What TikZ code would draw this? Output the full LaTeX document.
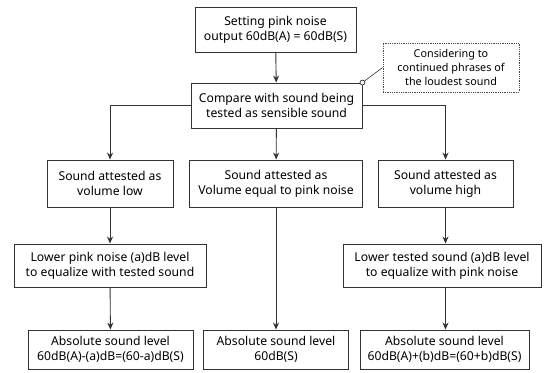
\documentclass[tikz,border=0pt]{standalone}
\usepackage{fontspec}
\setmainfont{Noto Sans}
\usepackage{tikz}
\usetikzlibrary{shapes,positioning,arrows.meta}
\tikzset{box/.style={rectangle,draw=black!80,line width=0.9pt,align=center,inner sep=0pt,font=\fontsize{12.2}{15}\selectfont}}
\tikzset{note/.style={rectangle,draw=black!70,densely dotted,line width=0.8pt,align=center,inner sep=0pt,font=\fontsize{10.8}{14}\selectfont}}
\tikzset{flow/.style={draw=black!80,line width=0.9pt,-{Stealth[length=7pt,width=6pt]}}}

\begin{document}
\begin{tikzpicture}[x=1pt,y=-1pt]
    \useasboundingbox (0,0) rectangle (545,372);
    \node[box,minimum width=161pt,minimum height=45pt] (set)at (275.5,29.5) {Setting pink noise\\output 60dB(A) = 60dB(S)};
    \node[box,minimum width=171pt,minimum height=45pt] (cmp)at (276.5,105.5) {Compare with sound being\\tested as sensible sound};
    \node[note,minimum width=136pt,minimum height=49pt] (cons)at (451,67.5) {Considering to\\continued phrases of\\the loudest sound};

    \node[box,minimum width=126pt,minimum height=47pt] (low)at (110,183.5) {Sound attested as\\volume low};
    \node[box,minimum width=173pt,minimum height=47pt] (equal)at (276,183.5) {Sound attested as\\Volume equal to pink noise};
    \node[box,minimum width=135pt,minimum height=47pt] (high)at (445.5,183.5) {Sound attested as\\volume high};

    \node[box,minimum width=192pt,minimum height=43pt] (lowpink)at (110,265.5) {Lower pink noise (a)dB level\\to equalize with tested sound};
    \node[box,minimum width=198pt,minimum height=43pt] (lowtest)at (442,265.5) {Lower tested sound (a)dB level\\to equalize with pink noise};

    \node[box,minimum width=165pt,minimum height=39pt] (absa)at (110.5,349.5) {Absolute sound level\\60dB(A)-(a)dB=(60-a)dB(S)};
    \node[box,minimum width=145pt,minimum height=39pt] (absb)at (276,349.5) {Absolute sound level\\60dB(S)};
    \node[box,minimum width=169pt,minimum height=39pt] (absc)at (444.5,349.5) {Absolute sound level\\60dB(A)+(b)dB=(60+b)dB(S)};

    \draw [flow] (set) to (cmp);
    \draw [flow] (cmp.west) -| (low);
    \draw [flow] (cmp) to (equal);
    \draw [flow] (cmp.east) -| (high.north);
    \draw [flow] (low) to (lowpink);
    \draw [flow] (high.south) to (high.south |- lowtest.north);
    \draw [flow] (equal) to (absb);
    \draw [flow] (lowpink) to (absa);
    \draw [flow] (high.south |- lowtest.south) to (high.south |- absc.north);

    \node[circle,draw=black!80,line width=0.7pt,fill=white,minimum size=5pt,inner sep=0pt] (pin)at (cmp.north east) {};
    \draw [draw=black!80,line width=0.6pt] (pin) to (cons.west);
\end{tikzpicture}
\end{document}
